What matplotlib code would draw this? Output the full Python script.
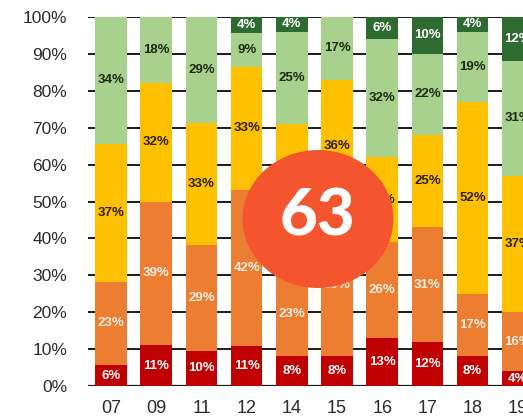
import matplotlib
matplotlib.use("Agg")
import matplotlib.pyplot as plt
from matplotlib.patches import Ellipse
import numpy as np

categories = ["07", "09", "11", "12", "14", "15", "16", "17", "18", "19"]
dark_red   = [5.6, 11, 9.6, 10.8, 8, 8, 13, 12, 8, 4]
orange     = [22.7, 39, 28.6, 42.3, 23, 39, 26, 31, 17, 16]
yellow     = [37.3, 32, 33.2, 33.4, 40, 36, 23, 25, 52, 37]
light_green = [34.4, 18, 28.6, 9.1, 25, 17, 32, 22, 19, 31]
dark_green = [0, 0, 0, 4.4, 4, 0, 6, 10, 4, 12]
yticklabels = ["0%", "10%", "20%", "30%", "40%", "50%", "60%", "70%", "80%", "90%", "100%"]
badge_text = "63"

series = [dark_red, orange, yellow, light_green, dark_green]
colors = ["#C00000", "#ED7D31", "#FFC000", "#A9D18E", "#2E6B30"]
label_colors = ["white", "#FDEFE6", "#2A2000", "#1C2A12", "white"]

plt.rcParams['font.family'] = ['Liberation Sans', 'DejaVu Sans']

W, H = 523, 416
fig = plt.figure(figsize=(W / 100, H / 100), dpi=100)
ax = fig.add_axes([88 / W, 30 / H, 1 - 88 / W, (386 - 17) / H])

x = np.arange(len(categories))
bottom = np.zeros(len(categories))
for vals, c, lc in zip(series, colors, label_colors):
    vals = np.array(vals, dtype=float)
    ax.bar(x, vals, bottom=bottom, width=0.70, color=c, zorder=3, linewidth=0)
    for xi, b, v in zip(x, bottom, vals):
        if v > 0:
            ax.text(xi, b + v / 2, f"{int(round(v))}%", ha="center", va="center",
                    fontsize=9.5, fontweight="bold", color=lc, zorder=4)
    bottom += vals

ax.set_xlim(-0.51, 9.115)
ax.set_ylim(0, 100)
ax.set_yticks(np.arange(0, 101, 10))
ax.set_yticklabels(yticklabels)
ax.set_xticks(x)
ax.set_xticklabels(categories)
ax.yaxis.grid(True, color="#1a1a1a", linewidth=1.4, zorder=1)
ax.set_axisbelow(True)
for s in ax.spines.values():
    s.set_visible(False)
ax.axhline(0, color="#1a1a1a", linewidth=1.6, zorder=2)
ax.tick_params(axis="y", length=0, pad=15, labelsize=12.5, labelcolor="#2b2b2b")
ax.tick_params(axis="x", length=0, pad=10, labelsize=13, labelcolor="#2b2b2b")

# badge overlay
ell = Ellipse((318 / W, 1 - 219 / H), 151 / W, 138 / H, transform=fig.transFigure,
              facecolor="#F4552F", edgecolor="none", zorder=10)
fig.add_artist(ell)
fig.text(318 / W, 1 - 217 / H, badge_text, ha="center", va="center", fontsize=47,
         fontweight=900, color="white", family=["Lato", "DejaVu Sans"], zorder=11)

fig.savefig("out.png", dpi=100)
